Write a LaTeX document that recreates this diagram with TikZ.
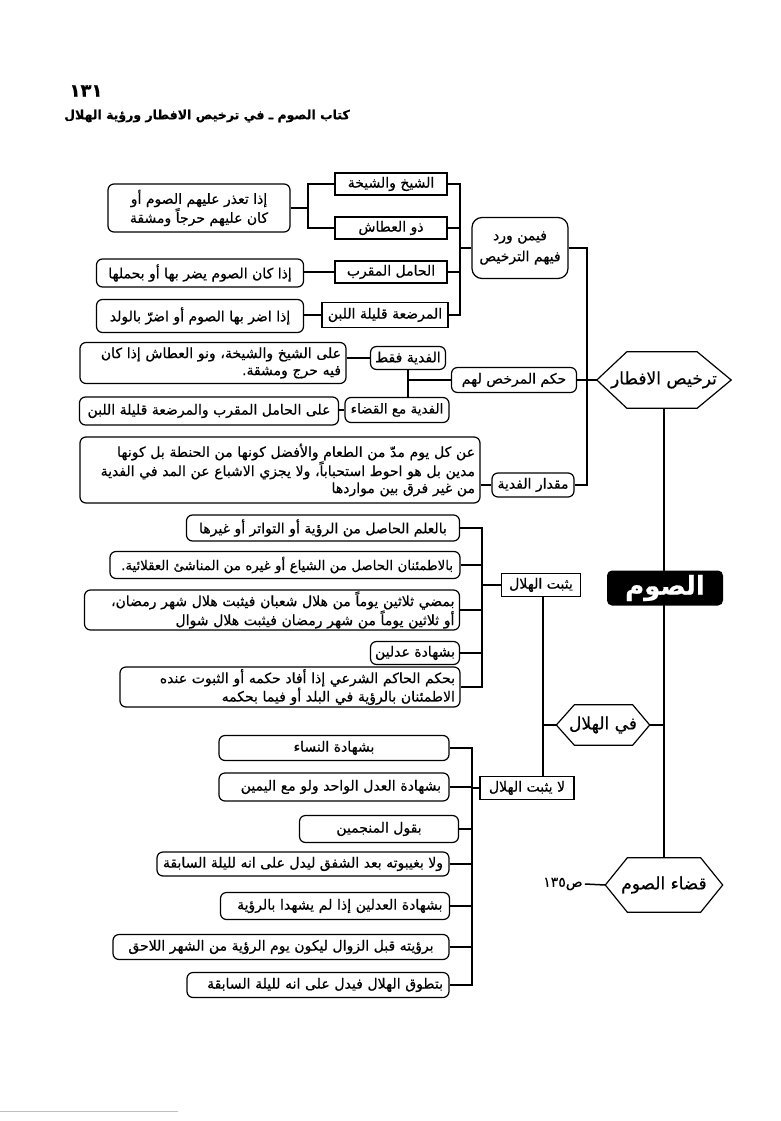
\documentclass[tikz,border=0pt]{standalone}
\usepackage{fontspec}
\TeXXeTstate=1
\newfontfamily\arfont[Script=Arabic, FakeBold=0.5]{DejaVu Sans}
\newcommand\AR[1]{\leavevmode\hbox{\beginR #1\endR}}
\tikzset{
  base/.style={font=\arfont\fontsize{14}{17}\selectfont, inner sep=0pt},
  rb/.style={base, draw, rounded corners=6pt, line width=1.2pt},
  sb/.style={base, draw, line width=1.8pt},
  hexs/.style={base, font=\arfont\fontsize{17}{20}\selectfont},
  hexline/.style={line width=1.2pt},
  conn/.style={line width=1.5pt},
}
\begin{document}
\begin{tikzpicture}[x=1pt,y=-1pt]
\useasboundingbox (0,0) rectangle (781,1121);
\fill[white] (0,0) rectangle (781,1121);

% header
\node[base, font=\arfont\bfseries\fontsize{18}{20}\selectfont] (pg) at (86,91) {\AR{١٣١}};
\node[base, font=\arfont\bfseries\fontsize{12.5}{15}\selectfont] (ttl) at (207,116) {\AR{كتاب الصوم ـ في ترخيص الافطار ورؤية الهلال}};

% bus coordinates
\coordinate (bA) at (308,0);
\coordinate (b1) at (460,0);
\coordinate (b2) at (587,0);
\coordinate (bD) at (482,0);
\coordinate (bE) at (472,0);
\coordinate (v3) at (543,0);
\coordinate (bB) at (408,0);

% top group
\node[sb, minimum width=112pt, minimum height=22pt] (A1) at (391,184) {\AR{الشيخ والشيخة}};
\node[sb, minimum width=112pt, minimum height=22pt] (A2) at (391,228) {\AR{ذو العطاش}};
\node[rb, minimum width=182pt, minimum height=48pt, align=center] (A0) at (199,208) {\AR{إذا تعذر عليهم الصوم أو}\\\AR{كان عليهم حرجاً ومشقة}};
\node[sb, minimum width=112pt, minimum height=22pt] (A3) at (391,272) {\AR{الحامل المقرب}};
\node[rb, minimum width=207pt, minimum height=28pt] (A3L) at (200,273) {\AR{إذا كان الصوم يضر بها أو بحملها}};
\node[sb, minimum width=126pt, minimum height=25pt] (A4) at (385,315) {\AR{المرضعة قليلة اللبن}};
\node[rb, minimum width=207pt, minimum height=33pt] (A4L) at (200,316) {\AR{إذا اضر بها الصوم أو اضرّ بالولد}};
\node[rb, minimum width=96pt, minimum height=61pt, align=center, rounded corners=10pt] (fimn) at (520,248) {\AR{فيمن ورد}\\[4pt]\AR{فيهم الترخيص}};

\draw[conn] (A1.west) -- (A1.west -| bA) -- (A2.west -| bA) -- (A2.west);
\draw[conn] (A0.east) -- (A0.east -| bA);
\draw[conn] (A3.west) -- (A3.west -| A3L.east);
\draw[conn] (A4.west) -- (A4.west -| A4L.east);
\draw[conn] (A1.east) -- (A1.east -| b1) -- (A4.east -| b1) -- (A4.east);
\draw[conn] (A2.east) -- (A2.east -| b1);
\draw[conn] (A3.east) -- (A3.east -| b1);
\draw[conn] (fimn.west) -- (fimn.west -| b1);

% middle group
\node[rb, minimum width=125pt, minimum height=25pt] (B0) at (514,380) {\AR{حكم المرخص لهم}};
\node[rb, minimum width=75pt, minimum height=23pt] (B1) at (408,358) {\AR{الفدية فقط}};
\node[rb, minimum width=266pt, minimum height=41pt, text width=256pt, align=right] (B1L) at (213,363) {\AR{على الشيخ والشيخة، ونو العطاش إذا كان}\\\AR{فيه حرج ومشقة.}};
\node[rb, minimum width=104pt, minimum height=25pt, font=\arfont\fontsize{13.5}{16}\selectfont] (B2) at (397,410) {\AR{الفدية مع القضاء}};
\node[rb, minimum width=259pt, minimum height=28pt] (B2L) at (209,411) {\AR{على الحامل المقرب والمرضعة قليلة اللبن}};
\node[rb, minimum width=82pt, minimum height=24pt] (C0) at (533,485) {\AR{مقدار الفدية}};
\node[rb, minimum width=400pt, minimum height=66pt, text width=390pt, align=right] (C0L) at (280,470) {\AR{عن كل يوم مدّ من الطعام والأفضل كونها من الحنطة بل كونها}\\\AR{مدين بل هو احوط استحباباً، ولا يجزي الاشباع عن المد في الفدية}\\\AR{من غير فرق بين مواردها}};

\draw[conn] (B1.west) -- (B1.west -| B1L.east);
\draw[conn] (B2.west) -- (B2.west -| B2L.east);
\draw[conn] (B1.south -| bB) -- (B2.north -| bB);
\draw[conn] (B0.west) -- (B0.west -| bB);
\draw[conn] (C0.west) -- (C0.west -| C0L.east);
\draw[conn] (fimn.east) -- (fimn.east -| b2) -- (C0.east -| b2) -- (C0.east);

% main spine: hexagons
\node[hexs, minimum width=134pt, minimum height=56pt] (hx1) at (664,380) {\AR{ترخيص الافطار}};
\draw[hexline] (hx1.west) -- ([xshift=30pt]hx1.north west) -- ([xshift=-34pt]hx1.north east) -- (hx1.east)
   -- ([xshift=-34pt]hx1.south east) -- ([xshift=30pt]hx1.south west) -- cycle;
\node[hexs, minimum width=117pt, minimum height=54pt] (hx3) at (664,885) {\AR{قضاء الصوم}};
\draw[hexline] (hx3.west) -- ([xshift=22pt]hx3.north west) -- ([xshift=-22pt]hx3.north east) -- (hx3.east)
   -- ([xshift=-22pt]hx3.south east) -- ([xshift=22pt]hx3.south west) -- cycle;
\draw[conn] (B0.east) -- (hx1.west);
\draw[conn] (hx1.south) -- (hx3.north);
\node[base, fill=black, text=white, rounded corners=5pt, minimum width=116pt, minimum height=35pt,
      font=\arfont\bfseries\fontsize{26}{30}\selectfont] (sawm) at (665,588) {\AR{الصوم}};
\node[hexs, minimum width=93pt, minimum height=40pt] (hx2) at (603,725) {\AR{في الهلال}};
\draw[hexline] (hx2.west) -- ([xshift=18pt]hx2.north west) -- ([xshift=-17pt]hx2.north east) -- (hx2.east)
   -- ([xshift=-17pt]hx2.south east) -- ([xshift=18pt]hx2.south west) -- cycle;
\draw[conn] (hx2.east) -- (hx2.east -| hx1.south);
\node[base] (lbl) at (563,884) {\AR{ص١٣٥}};
\draw[conn] (hx3.west) -- ([xshift=2pt]lbl.east);

% hilal branches
\node[sb, minimum width=79pt, minimum height=23pt] (F0) at (541,585) {\AR{يثبت الهلال}};
\node[sb, minimum width=94pt, minimum height=23pt] (E0) at (527,788) {\AR{لا يثبت الهلال}};
\draw[conn] (F0.south -| v3) -- (E0.north -| v3);
\draw[conn] (hx2.west) -- (hx2.west -| v3);

\node[rb, minimum width=273pt, minimum height=26pt] (D1) at (323,528) {\AR{بالعلم الحاصل من الرؤية أو التواتر أو غيرها}};
\node[rb, minimum width=350pt, minimum height=27pt, text width=336pt, align=right, font=\arfont\fontsize{13.3}{16}\selectfont] (D2) at (285,565) {\AR{بالاطمئنان الحاصل من الشياع أو غيره من المناشئ العقلائية.}};
\node[rb, minimum width=375pt, minimum height=40pt, text width=365pt, align=right] (D3) at (272,610) {\AR{بمضي ثلاثين يوماً من هلال شعبان فيثبت هلال شهر رمضان،}\\\AR{أو ثلاثين يوماً من شهر رمضان فيثبت هلال شوال}};
\node[rb, minimum width=89pt, minimum height=23pt] (D4) at (415,653) {\AR{بشهادة عدلين}};
\node[rb, minimum width=340pt, minimum height=40pt, text width=330pt, align=right] (D5) at (290,687) {\AR{بحكم الحاكم الشرعي إذا أفاد حكمه أو الثبوت عنده}\\\AR{الاطمئنان بالرؤية في البلد أو فيما بحكمه}};
\draw[conn] (D1.east) -- (D1.east -| bD) -- (D5.east -| bD) -- (D5.east);
\draw[conn] (D2.east) -- (D2.east -| bD);
\draw[conn] (D3.east) -- (D3.east -| bD);
\draw[conn] (D4.east) -- (D4.east -| bD);
\draw[conn] (F0.west) -- (F0.west -| bD);

\node[rb, minimum width=230pt, minimum height=25pt] (E1) at (334,748) {\AR{بشهادة النساء}};
\node[rb, minimum width=230pt, minimum height=28pt, text width=214pt, align=right] (E2) at (334,787) {\AR{بشهادة العدل الواحد ولو مع اليمين}};
\node[rb, minimum width=159pt, minimum height=27pt] (E3) at (379,829) {\AR{بقول المنجمين}};
\node[rb, minimum width=292pt, minimum height=24pt] (E4) at (303,864) {\AR{ولا بغيبوته بعد الشفق ليدل على انه لليلة السابقة}};
\node[rb, minimum width=229pt, minimum height=27pt, text width=215pt, align=right] (E5) at (335,906) {\AR{بشهادة العدلين إذا لم يشهدا بالرؤية}};
\node[rb, minimum width=336pt, minimum height=25pt] (E6) at (281,947) {\AR{برؤيته قبل الزوال ليكون يوم الرؤية من الشهر اللاحق}};
\node[rb, minimum width=262pt, minimum height=25pt, text width=250pt, align=right] (E7) at (318,985) {\AR{بتطوق الهلال فيدل على انه لليلة السابقة}};
\draw[conn] (E1.east) -- (E1.east -| bE) -- (E7.east -| bE) -- (E7.east);
\foreach \n in {E2,E3,E4,E5,E6} \draw[conn] (\n.east) -- (\n.east -| bE);
\draw[conn] (E0.west) -- (E0.west -| bE);

\draw[gray!50, line width=0.6pt] (0,1111) -- (178,1111);
\end{tikzpicture}
\end{document}
